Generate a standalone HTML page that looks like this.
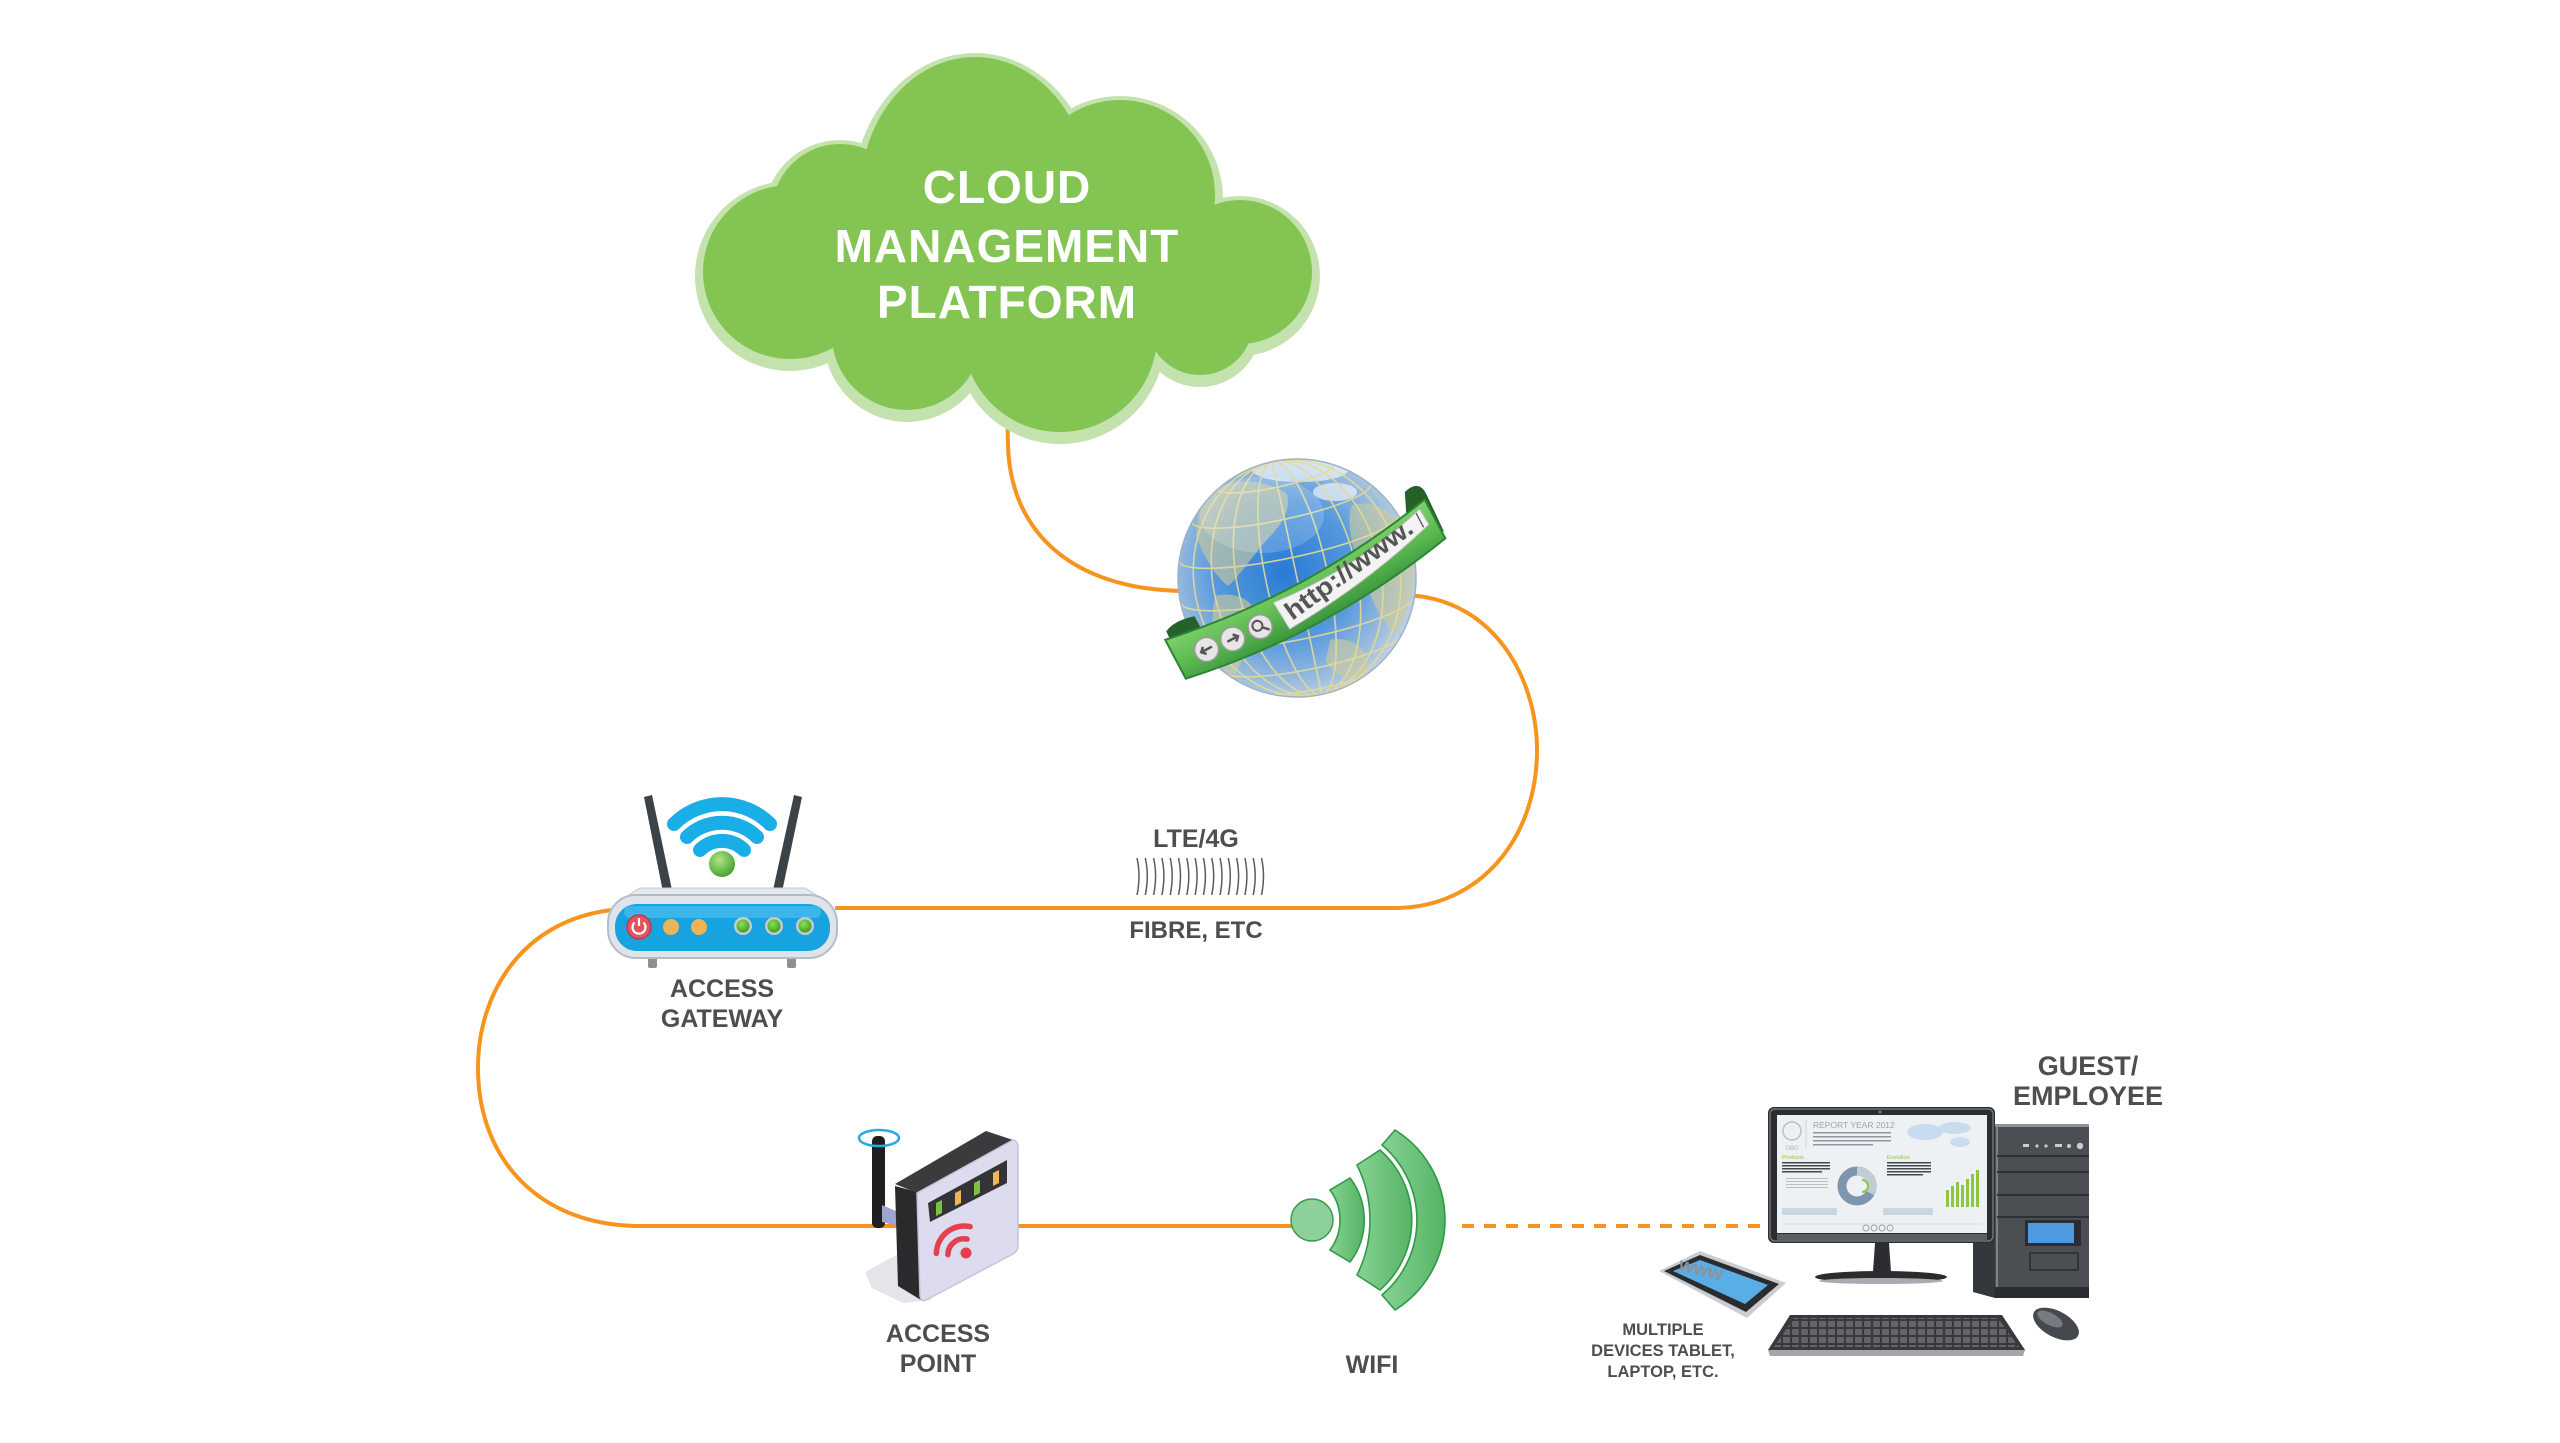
<!DOCTYPE html>
<html><head><meta charset="utf-8"><title>Cloud managed network diagram</title>
<style>
html,body{margin:0;padding:0;background:#fff;width:2560px;height:1443px;overflow:hidden}
svg{display:block}
.lbl{font-family:"Liberation Sans",Arial,sans-serif;font-weight:bold;fill:#4d4e50;text-anchor:middle}
.sm{font-family:"Liberation Sans",Arial,sans-serif}
</style></head><body>
<svg width="2560" height="1443" viewBox="0 0 2560 1443">
<defs>
<radialGradient id="gl" cx="45%" cy="47%" r="58%">
 <stop offset="0" stop-color="#2a7bd4"/>
 <stop offset="0.5" stop-color="#5598dc"/>
 <stop offset="0.85" stop-color="#a3c1e0"/>
 <stop offset="1" stop-color="#c8d7e6"/>
</radialGradient>
<clipPath id="gc"><circle cx="1297" cy="578" r="119"/></clipPath>
<linearGradient id="bandG" x1="0" y1="0" x2="0" y2="1">
 <stop offset="0" stop-color="#7fd36c"/><stop offset="0.55" stop-color="#5cb850"/><stop offset="1" stop-color="#3a973d"/>
</linearGradient>
<linearGradient id="wg" x1="0" y1="0" x2="1" y2="0">
 <stop offset="0" stop-color="#86d293"/><stop offset="1" stop-color="#55b464"/>
</linearGradient>
<radialGradient id="gdot" cx="40%" cy="35%" r="65%"><stop offset="0" stop-color="#b2e486"/><stop offset="1" stop-color="#47a535"/></radialGradient>
<radialGradient id="ldot" cx="40%" cy="35%" r="65%"><stop offset="0" stop-color="#8ee05a"/><stop offset="1" stop-color="#3ea021"/></radialGradient>
<pattern id="keys" width="9" height="8" patternUnits="userSpaceOnUse"><rect x="1" y="1" width="7" height="6" rx="1" fill="#62656a"/></pattern>
</defs>

<!-- connectors -->
<g fill="none" stroke="#f7941d" stroke-width="4">
 <path d="M1007,405 L1008,445 C1010,530 1070,590 1185,591"/>
 <path d="M1405,595 C1495,598 1537,680 1537,750 C1537,840 1478,908 1395,908 L835,908"/>
 <path d="M612,910 C525,920 478,990 478,1068 C478,1160 540,1226 640,1226 L1300,1226"/>
 <path d="M1462,1226 L1772,1226" stroke-dasharray="12 10"/>
</g>

<!-- cloud -->
<g fill="#c4e2ad" transform="translate(0,4)">
 <circle cx="790" cy="272" r="95"/>
 <circle cx="840" cy="212" r="76"/>
 <ellipse cx="975" cy="195" rx="123" ry="146"/>
 <circle cx="1120" cy="195" r="103"/>
 <circle cx="1240" cy="272" r="80"/>
 <circle cx="1200" cy="322" r="61"/>
 <circle cx="1060" cy="335" r="105"/>
 <circle cx="907" cy="335" r="83"/>
 <ellipse cx="1010" cy="280" rx="225" ry="95"/>
</g>
<g fill="#83c452">
 <circle cx="790" cy="272" r="87"/>
 <circle cx="840" cy="212" r="68"/>
 <ellipse cx="975" cy="195" rx="115" ry="138"/>
 <circle cx="1120" cy="195" r="95"/>
 <circle cx="1240" cy="272" r="72"/>
 <circle cx="1200" cy="322" r="53"/>
 <circle cx="1060" cy="335" r="97"/>
 <circle cx="907" cy="335" r="75"/>
 <ellipse cx="1010" cy="280" rx="220" ry="90"/>
</g>
<g font-family="'Liberation Sans', Arial, sans-serif" font-weight="bold" font-size="46" fill="#ffffff" text-anchor="middle" letter-spacing="1">
 <text x="1007" y="203">CLOUD</text>
 <text x="1007" y="262">MANAGEMENT</text>
 <text x="1007" y="318">PLATFORM</text>
</g>

<!-- globe -->
<circle cx="1297" cy="578" r="119" fill="url(#gl)"/>
<g clip-path="url(#gc)">
 <g fill="#cfcb9c" opacity="0.6">
  <path d="M1200,500 C1222,478 1262,476 1287,494 C1292,515 1276,530 1262,545 C1250,560 1240,575 1228,586 C1214,575 1203,555 1196,535 Z"/>
  <path d="M1215,596 C1240,590 1262,605 1256,626 C1250,646 1240,666 1230,684 C1217,662 1208,630 1215,596 Z"/>
  <path d="M1352,505 C1380,498 1408,520 1414,552 C1417,582 1409,612 1396,634 C1380,622 1368,592 1360,566 C1351,546 1346,520 1352,505 Z"/>
  <path d="M1330,640 C1350,635 1372,650 1368,672 C1352,684 1332,676 1326,660 Z"/>
 </g>
 <ellipse cx="1300" cy="470" rx="48" ry="12" fill="#ffffff" opacity="0.6"/>
 <ellipse cx="1335" cy="492" rx="22" ry="9" fill="#eef2f4" opacity="0.7"/>
 <g fill="none" stroke="#e4da96" stroke-width="1.6" opacity="0.9" transform="rotate(-12 1297 578)">
  <ellipse cx="1297" cy="578" rx="31" ry="119"/>
  <ellipse cx="1297" cy="578" rx="60" ry="119"/>
  <ellipse cx="1297" cy="578" rx="84" ry="119"/>
  <ellipse cx="1297" cy="578" rx="103" ry="119"/>
  <line x1="1297" y1="459" x2="1297" y2="697"/>
  <path d="M1178,578 A119,22 0 0 0 1416,578"/>
  <path d="M1185,537 A112,20 0 0 0 1409,537"/>
  <path d="M1185,619 A112,20 0 0 0 1409,619"/>
  <path d="M1206,502 A91,16 0 0 0 1388,502"/>
  <path d="M1206,654 A91,16 0 0 0 1388,654"/>
  <path d="M1238,475 A59,10 0 0 0 1356,475"/>
  <path d="M1238,681 A59,10 0 0 0 1356,681"/>
 </g>
 <ellipse cx="1262" cy="515" rx="62" ry="38" fill="#ffffff" opacity="0.18"/>
</g>
<circle cx="1297" cy="578" r="119" fill="none" stroke="#9fb2c6" stroke-width="1.5"/>

<!-- band -->
<g transform="translate(0,6) rotate(-28 1302 578)">
 <path d="M1158,590 L1160,556 Q1172,550 1192,556 L1192,590 Z" fill="#24622a"/>
 <path d="M1418,585 L1436,545 Q1454,540 1454,556 L1452,598 Z" fill="#24622a"/>
 <path d="M1155,563 Q1300,590 1450,561 L1450,605 Q1300,634 1155,607 Z" fill="url(#bandG)" stroke="#2c8534" stroke-width="2"/>
 <path d="M1268,581 Q1360,590 1441,567 L1442,585 Q1360,608 1270,612 Z" fill="#f3f3f3" stroke="#bdbdbd" stroke-width="1"/>
 <text x="1276" y="606" class="sm" font-weight="bold" font-size="25" fill="#555" transform="rotate(-8 1276 606)" textLength="152" lengthAdjust="spacingAndGlyphs">http://www.</text>
 <line x1="1436" y1="569" x2="1436" y2="585" stroke="#555" stroke-width="1.3"/>
 <g fill="#e6e6e6" stroke="#9a9a9a" stroke-width="1.5">
  <circle cx="1187" cy="591" r="12"/>
  <circle cx="1215" cy="594" r="12"/>
  <circle cx="1245" cy="596" r="12"/>
 </g>
 <path d="M1193,591 L1181,591 M1185,587 L1181,591 L1185,595" stroke="#555" stroke-width="2.5" fill="none"/>
 <path d="M1209,594 L1221,594 M1217,590 L1221,594 L1217,598" stroke="#555" stroke-width="2.5" fill="none"/>
 <circle cx="1243" cy="594" r="5" fill="none" stroke="#555" stroke-width="2"/>
 <line x1="1247" y1="598" x2="1252" y2="603" stroke="#555" stroke-width="2.5"/>
</g>

<!-- access gateway -->
<path d="M644,797 L652,795 L672,890 L663,892 Z" fill="#3d4247"/>
<path d="M794,795 L802,797 L782,892 L773,890 Z" fill="#3d4247"/>
<g fill="none" stroke="#1aaee6" stroke-width="14" stroke-linecap="round">
 <path d="M674,824 A68,68 0 0 1 770,824"/>
 <path d="M687,837 A50,50 0 0 1 757,837"/>
 <path d="M700,850 A31,31 0 0 1 744,850"/>
</g>
<circle cx="722" cy="864" r="13" fill="url(#gdot)"/>
<rect x="648" y="952" width="9" height="16" rx="2" fill="#8a9096"/>
<rect x="787" y="952" width="9" height="16" rx="2" fill="#8a9096"/>
<path d="M640,888 L805,888 L824,900 L621,900 Z" fill="#e4e9ef" stroke="#c3c9d1"/>
<rect x="608" y="895" width="229" height="63" rx="28" fill="#dfe4ea" stroke="#b5bcc6" stroke-width="2"/>
<rect x="615" y="904" width="215" height="47" rx="22" fill="#16a3e0"/>
<rect x="624" y="906" width="197" height="12" rx="6" fill="#5cc6f2" opacity="0.55"/>
<circle cx="639" cy="927" r="12" fill="#e2525f" stroke="#c0394a" stroke-width="1.5"/>
<path d="M634.5,922.5 A6.5,6.5 0 1 0 643.5,922.5" fill="none" stroke="#fff" stroke-width="2.2"/>
<line x1="639" y1="918" x2="639" y2="926" stroke="#fff" stroke-width="2.2"/>
<circle cx="671" cy="927" r="8" fill="#f0b455"/>
<circle cx="699" cy="927" r="8" fill="#f0b455"/>
<g fill="#c6cacf"><circle cx="743" cy="926" r="9"/><circle cx="774" cy="926" r="9"/><circle cx="805" cy="926" r="9"/></g>
<g fill="url(#ldot)"><circle cx="743" cy="926" r="6.5"/><circle cx="774" cy="926" r="6.5"/><circle cx="805" cy="926" r="6.5"/></g>
<text class="lbl" x="722" y="997" font-size="25">ACCESS</text>
<text class="lbl" x="722" y="1027" font-size="25">GATEWAY</text>

<!-- LTE -->
<text class="lbl" x="1196" y="847" font-size="25">LTE/4G</text>
<g fill="none" stroke="#5a5a5c" stroke-width="1.5">
 <path d="M1137,858 Q1141,876 1137,895"/><path d="M1145.3,858 Q1149.3,876 1145.3,895"/>
 <path d="M1153.6,858 Q1157.6,876 1153.6,895"/><path d="M1161.9,858 Q1165.9,876 1161.9,895"/>
 <path d="M1170.2,858 Q1174.2,876 1170.2,895"/><path d="M1178.5,858 Q1182.5,876 1178.5,895"/>
 <path d="M1186.8,858 Q1190.8,876 1186.8,895"/><path d="M1195.1,858 Q1199.1,876 1195.1,895"/>
 <path d="M1203.4,858 Q1207.4,876 1203.4,895"/><path d="M1211.7,858 Q1215.7,876 1211.7,895"/>
 <path d="M1220,858 Q1224,876 1220,895"/><path d="M1228.3,858 Q1232.3,876 1228.3,895"/>
 <path d="M1236.6,858 Q1240.6,876 1236.6,895"/><path d="M1244.9,858 Q1248.9,876 1244.9,895"/>
 <path d="M1253.2,858 Q1257.2,876 1253.2,895"/><path d="M1261.5,858 Q1265.5,876 1261.5,895"/>
</g>
<text class="lbl" x="1196" y="938" font-size="24">FIBRE, ETC</text>

<!-- access point -->
<path d="M865,1272 L902,1252 L932,1300 L903,1303 L872,1288 Z" fill="#e3e5ea"/>
<rect x="872" y="1136" width="13" height="92" rx="5" fill="#1f1f22"/>
<ellipse cx="879" cy="1138" rx="20" ry="8" fill="none" stroke="#2aa8e0" stroke-width="2.5"/>
<path d="M882,1205 L898,1212 L898,1226 L882,1222 Z" fill="#9ea4d2"/>
<path d="M895,1186 L917,1192 L921,1300 L898,1286 Z" fill="#2a2a2c"/>
<path d="M895,1184 L986,1131 L1013,1140 L917,1193 Z" fill="#3b3b3e"/>
<path d="M917,1193 L1013,1140 Q1018,1141 1018,1147 L1018,1246 Q1018,1251 1013,1254 L926,1300 Q921,1302 920,1296 Z" fill="#dcdcee" stroke="#c4c4dc" stroke-width="1.5"/>
<path d="M928,1203 L1007,1160 L1007,1183 L930,1222 Z" fill="#343436"/>
<path d="M936,1203 L942,1200 L942,1213 L936,1216 Z" fill="#7cc242"/>
<path d="M955,1193 L961,1190 L961,1203 L955,1206 Z" fill="#f0b455"/>
<path d="M974,1183 L980,1180 L980,1193 L974,1196 Z" fill="#7cc242"/>
<path d="M993,1173 L999,1170 L999,1183 L993,1186 Z" fill="#f0b455"/>
<g transform="translate(964,1256) rotate(-25)" fill="none" stroke="#e5404f" stroke-width="5.5" stroke-linecap="round">
 <path d="M-14,-8 A16,16 0 0 1 10,-14"/>
 <path d="M-24,-14 A28,28 0 0 1 18,-24"/>
</g>
<circle cx="966" cy="1253" r="5.5" fill="#e5404f"/>
<text class="lbl" x="938" y="1342" font-size="25">ACCESS</text>
<text class="lbl" x="938" y="1372" font-size="25">POINT</text>

<!-- wifi -->
<circle cx="1312" cy="1220" r="21" fill="#8dd09b" stroke="#3b9a4d" stroke-width="1.5"/>
<g fill="url(#wg)" stroke="#2f9a47" stroke-width="1.6">
 <path d="M1350,1178 A69,69 0 0 1 1350,1262 L1330,1250 A50,50 0 0 0 1330,1190 Z"/>
 <path d="M1380,1150 A93,93 0 0 1 1380,1290 L1357,1275 A123,123 0 0 0 1357,1165 Z"/>
 <path d="M1395,1130 A106,106 0 0 1 1395,1310 L1382,1295 A98,98 0 0 0 1382,1145 Z"/>
</g>
<text class="lbl" x="1372" y="1373" font-size="25">WIFI</text>

<!-- tablet -->
<path d="M1659,1271 L1700,1251 L1786,1283 L1747,1318 Z" fill="#c9ccd0"/>
<path d="M1664,1271 L1700,1255 L1779,1284 L1746,1312 Z" fill="#2a2c30"/>
<path d="M1673,1271 L1700,1260 L1768,1285 L1745,1304 Z" fill="#5aaee6"/>
<text class="sm" x="1678" y="1270" font-size="19" font-weight="bold" fill="#8c9197" transform="rotate(14 1678 1270)">www</text>
<text class="lbl" x="1663" y="1335" font-size="16.5">MULTIPLE</text>
<text class="lbl" x="1663" y="1356" font-size="16.5">DEVICES TABLET,</text>
<text class="lbl" x="1663" y="1377" font-size="16.5">LAPTOP, ETC.</text>

<!-- tower -->
<path d="M1973,1135 L1995,1125 L1995,1298 L1973,1292 Z" fill="#34373b"/>
<rect x="1995" y="1125" width="94" height="173" fill="#4b4e53"/>
<path d="M1973,1135 L1995,1124 L2089,1124 L2089,1127 L1995,1127 Z" fill="#8e9196"/>
<line x1="1997" y1="1126" x2="1997" y2="1298" stroke="#8e9196" stroke-width="1.5"/>
<g stroke="#2d3034" stroke-width="2">
 <line x1="1997" y1="1156" x2="2089" y2="1156"/>
 <line x1="1997" y1="1172" x2="2089" y2="1172"/>
 <line x1="1997" y1="1195" x2="2089" y2="1195"/>
 <line x1="1997" y1="1217" x2="2089" y2="1217"/>
</g>
<g fill="#c9ccd0"><rect x="2023" y="1144" width="6" height="3"/><circle cx="2037" cy="1146" r="1.6"/><circle cx="2046" cy="1146" r="1.6"/><rect x="2055" y="1144" width="7" height="3"/><circle cx="2069" cy="1146" r="2"/><circle cx="2080" cy="1146" r="3.2"/></g>
<rect x="2025" y="1220" width="56" height="26" fill="#2a2d31"/>
<rect x="2028" y="1223" width="46" height="20" fill="#4d9be0"/>
<rect x="2030" y="1253" width="48" height="17" fill="none" stroke="#2a2c30" stroke-width="1.5"/>
<rect x="1995" y="1287" width="94" height="11" fill="#2a2c30"/>

<!-- monitor -->
<rect x="1768" y="1107" width="227" height="136" rx="6" fill="#2b2e31"/>
<rect x="1770" y="1109" width="223" height="132" rx="5" fill="none" stroke="#70747a" stroke-width="1.5"/>
<circle cx="1880" cy="1112" r="1.5" fill="#777"/>
<rect x="1777" y="1115" width="210" height="118" fill="#eef1f3"/>
<rect x="1777" y="1234" width="210" height="6" fill="#5a5d62"/>
<circle cx="1792" cy="1131" r="9" fill="none" stroke="#b8c0c8" stroke-width="1.5"/>
<text class="sm" x="1792" y="1150" font-size="6" fill="#aab2ba" text-anchor="middle">GBG</text>
<line x1="1806" y1="1120" x2="1806" y2="1148" stroke="#cfd5da"/>
<text class="sm" x="1813" y="1128" font-size="8.5" fill="#9aa4ae">REPORT YEAR 2012</text>
<g fill="#8f989f"><rect x="1813" y="1132" width="78" height="1.5"/><rect x="1813" y="1136" width="78" height="1.5"/><rect x="1813" y="1140" width="78" height="1.5"/><rect x="1813" y="1144" width="60" height="1.5"/></g>
<g fill="#c8dcef"><ellipse cx="1925" cy="1132" rx="18" ry="8"/><ellipse cx="1955" cy="1128" rx="16" ry="6"/><ellipse cx="1960" cy="1142" rx="10" ry="5"/></g>
<text class="sm" x="1782" y="1159" font-size="5.5" fill="#8dc63f">Products</text>
<text class="sm" x="1887" y="1159" font-size="5.5" fill="#8dc63f">Evolution</text>
<g fill="#45494e"><rect x="1782" y="1162" width="48" height="1.5"/><rect x="1782" y="1165" width="48" height="1.5"/><rect x="1782" y="1168" width="48" height="1.5"/><rect x="1782" y="1171" width="40" height="1.5"/><rect x="1887" y="1162" width="44" height="1.5"/><rect x="1887" y="1165" width="44" height="1.5"/><rect x="1887" y="1168" width="44" height="1.5"/><rect x="1887" y="1171" width="44" height="1.5"/><rect x="1887" y="1174" width="36" height="1.5"/></g>
<g fill="#b8bfc6"><rect x="1786" y="1178" width="42" height="1"/><rect x="1786" y="1181" width="42" height="1"/><rect x="1786" y="1184" width="42" height="1"/><rect x="1786" y="1187" width="42" height="1"/></g>
<circle cx="1857" cy="1186" r="15" fill="none" stroke="#7d96ad" stroke-width="9"/>
<path d="M1857,1171 A15,15 0 0 1 1870,1193" fill="none" stroke="#c2ccd6" stroke-width="9"/>
<path d="M1862,1180 A6,6 0 0 1 1862,1192" fill="none" stroke="#8dc63f" stroke-width="2"/>
<g fill="#8dc63f"><rect x="1946" y="1190" width="3" height="17"/><rect x="1951" y="1186" width="3" height="21"/><rect x="1956" y="1182" width="3" height="25"/><rect x="1961" y="1185" width="3" height="22"/><rect x="1966" y="1179" width="3" height="28"/><rect x="1971" y="1174" width="3" height="33"/><rect x="1976" y="1170" width="3" height="37"/></g>
<rect x="1782" y="1208" width="55" height="7" fill="#c9d6e0"/>
<rect x="1883" y="1208" width="50" height="7" fill="#c9d6e0"/>
<line x1="1782" y1="1224" x2="1982" y2="1224" stroke="#d5dbe0"/>
<g fill="none" stroke="#9aa3ab"><circle cx="1866" cy="1228" r="3"/><circle cx="1874" cy="1228" r="3"/><circle cx="1882" cy="1228" r="3"/><circle cx="1890" cy="1228" r="3"/></g>
<path d="M1875,1243 L1889,1243 L1891,1272 L1873,1272 Z" fill="#2b2d30"/>
<ellipse cx="1881" cy="1277" rx="66" ry="6" fill="#2a2c2f"/>
<ellipse cx="1881" cy="1281" rx="62" ry="3" fill="#a8abb0"/>

<!-- keyboard -->
<path d="M1790,1315 L2002,1315 L2025,1350 L1768,1350 Z" fill="#37393d"/>
<path d="M1794,1318 L1998,1318 L2019,1347 L1774,1347 Z" fill="url(#keys)"/>
<path d="M1768,1350 L2025,1350 L2023,1356 L1770,1356 Z" fill="#a3a6ab"/>

<!-- mouse -->
<ellipse cx="2056" cy="1324" rx="25" ry="13" transform="rotate(28 2056 1324)" fill="#45484d"/>
<ellipse cx="2050" cy="1319" rx="14" ry="6" transform="rotate(28 2050 1319)" fill="#8d9096" opacity="0.7"/>

<text class="lbl" x="2088" y="1075" font-size="27">GUEST/</text>
<text class="lbl" x="2088" y="1105" font-size="27">EMPLOYEE</text>
</svg>
</body></html>
